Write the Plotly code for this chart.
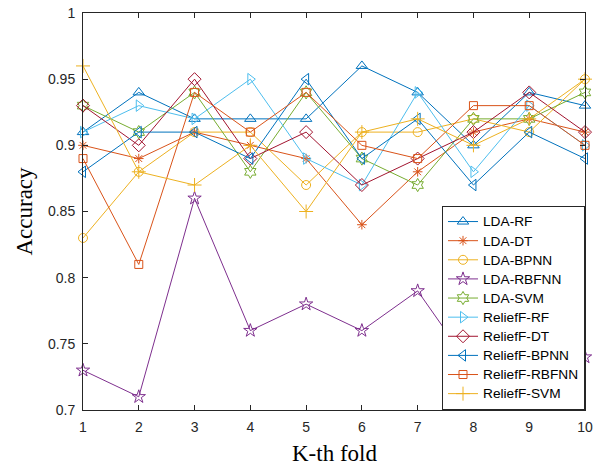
import plotly.graph_objects as go

folds = [1, 2, 3, 4, 5, 6, 7, 8, 9, 10]

lda_rf      = [0.91, 0.94, 0.92, 0.92, 0.92, 0.96, 0.94, 0.90, 0.94, 0.93]
lda_dt      = [0.90, 0.89, 0.91, 0.90, 0.89, 0.84, 0.88, 0.91, 0.92, 0.91]
lda_bpnn    = [0.83, 0.88, 0.91, 0.91, 0.87, 0.91, 0.91, 0.92, 0.91, 0.95]
lda_rbfnn   = [0.73, 0.71, 0.86, 0.76, 0.78, 0.76, 0.79, 0.73, 0.75, 0.74]
lda_svm     = [0.93, 0.91, 0.94, 0.88, 0.94, 0.89, 0.87, 0.92, 0.92, 0.94]
relief_rf   = [0.91, 0.93, 0.92, 0.95, 0.89, 0.87, 0.94, 0.88, 0.93, 0.90]
relief_dt   = [0.93, 0.90, 0.95, 0.89, 0.91, 0.87, 0.89, 0.91, 0.94, 0.91]
relief_bpnn = [0.88, 0.91, 0.91, 0.89, 0.95, 0.89, 0.92, 0.87, 0.91, 0.89]
relief_rbfnn= [0.89, 0.81, 0.94, 0.91, 0.94, 0.90, 0.89, 0.93, 0.93, 0.90]
relief_svm  = [0.96, 0.88, 0.87, 0.90, 0.85, 0.91, 0.92, 0.90, 0.92, 0.95]

names = ["LDA-RF", "LDA-DT", "LDA-BPNN", "LDA-RBFNN", "LDA-SVM",
         "ReliefF-RF", "ReliefF-DT", "ReliefF-BPNN", "ReliefF-RBFNN", "ReliefF-SVM"]
series = [lda_rf, lda_dt, lda_bpnn, lda_rbfnn, lda_svm,
          relief_rf, relief_dt, relief_bpnn, relief_rbfnn, relief_svm]
colors = ["#0072BD", "#D95319", "#EDB120", "#7E2F8E", "#77AC30",
          "#4DBEEE", "#A2142F", "#0072BD", "#D95319", "#EDB120"]
symbols = ["triangle-up-open", "asterisk-open", "circle-open", "star-open", "hexagram-open",
           "triangle-right-open", "diamond-open", "triangle-left-open", "square-open", "cross-thin-open"]
sizes = [10, 8, 9, 10, 10, 10, 10, 10, 8, 10]

ytick_vals = [0.7, 0.75, 0.8, 0.85, 0.9, 0.95, 1.0]
ytick_text = ["0.7", "0.75", "0.8", "0.85", "0.9", "0.95", "1"]

fig = go.Figure()
for n, s, c, sym, sz in zip(names, series, colors, symbols, sizes):
    fig.add_trace(go.Scatter(
        x=folds, y=s, name='<span style="font-size:13.7px">' + n + '</span>',
        mode="lines+markers", cliponaxis=False,
        line=dict(color=c, width=1),
        marker=dict(symbol=sym, size=sz, color=c, line=dict(color=c, width=1)),
    ))

axis_common = dict(
    showline=True, linecolor="#262626", linewidth=1,
    ticks="inside", ticklen=5, tickcolor="#262626", tickwidth=1,
    mirror="ticks", showgrid=False, zeroline=False, automargin=False,
    ticklabelstandoff=4,
    tickfont=dict(family="Liberation Sans, Arial", size=14, color="#262626"),
)

fig.update_layout(
    width=593, height=465,
    margin=dict(l=83, r=8, t=13, b=55),
    paper_bgcolor="white", plot_bgcolor="white",
    xaxis=dict(range=[1, 10], tickvals=folds, **axis_common),
    yaxis=dict(range=[0.7, 1.0], tickvals=ytick_vals, ticktext=ytick_text,
               title=dict(text="Accuracy", standoff=8,
                          font=dict(family="Liberation Serif, Times New Roman", size=23, color="#000000")),
               **axis_common),
    annotations=[dict(text="K-th fold", xref="paper", yref="paper", x=0.5, y=0,
                      xanchor="center", yanchor="middle", yshift=-43, showarrow=False,
                      font=dict(family="Liberation Serif, Times New Roman", size=23, color="#000000"))],
    legend=dict(x=1, y=0, xanchor="right", yanchor="bottom",
                bgcolor="white", bordercolor="#262626", borderwidth=1,
                font=dict(family="Liberation Sans, Arial", size=12.4, color="#000000"),
                tracegroupgap=0, itemwidth=30),
    showlegend=True,
)

fig.write_html(
    "out.html",
    config={"displayModeBar": False},
    post_script="document.body.style.margin='0';document.body.style.overflow='hidden';"
                "document.documentElement.style.overflow='hidden';",
)
